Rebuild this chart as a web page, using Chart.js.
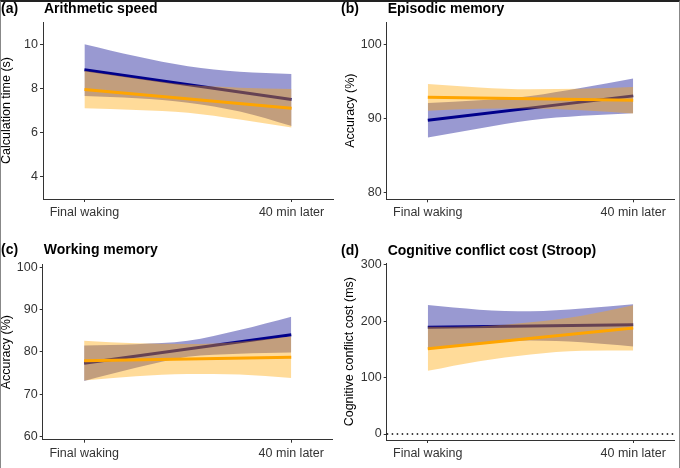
<!DOCTYPE html>
<html>
<head>
<meta charset="utf-8">
<script src="https://cdn.jsdelivr.net/npm/chart.js@4.4.0/dist/chart.umd.min.js"></script>
<style>
  body { margin: 0; background: #fff; }
  #wrap { position: relative; width: 680px; height: 468px; overflow: hidden; }
  #wrap canvas { position: absolute; }
  #frame { position: absolute; left: 0; top: 0; width: 680px; height: 468px; box-sizing: border-box;
           border-top: 2px solid #222; border-left: 1px solid #888; border-right: 1px solid #888; pointer-events: none; }
</style>
</head>
<body>
<div id="wrap">
  <canvas id="panelA" width="340" height="234" style="left:0;top:0"></canvas>
  <canvas id="panelB" width="340" height="234" style="left:340px;top:0"></canvas>
  <canvas id="panelC" width="340" height="234" style="left:0;top:234px"></canvas>
  <canvas id="panelD" width="340" height="234" style="left:340px;top:234px"></canvas>
  <div id="frame"></div>
</div>
<script>
// --- data ---
const timeTicks = [0, 40];
const timeLabels = ['Final waking', '40 min later'];
const lineTimes = [0, 40];
const ribbonTimes = [0, 10, 20, 30, 40];

// (a) arithmetic speed, s
const arithTicks = [4, 6, 8, 10];
const arithBlueLine = [8.84, 7.5];
const arithOrangeLine = [7.95, 7.1];
const arithBlueUpper = [10.0, 9.45, 9.0, 8.75, 8.65];
const arithBlueLower = [7.65, 7.55, 7.35, 6.95, 6.3];
const arithOrangeUpper = [8.8, 8.46, 8.16, 8.03, 7.97];
const arithOrangeLower = [7.1, 7.02, 6.9, 6.59, 6.23];

// (b) episodic memory, %
const episodicTicks = [80, 90, 100];
const episodicBlueLine = [89.8, 93.1];
const episodicOrangeLine = [92.9, 92.5];
const episodicBlueUpper = [92.15, 92.5, 93.1, 94.2, 95.45];
const episodicBlueLower = [87.45, 88.7, 89.8, 90.4, 90.75];
const episodicOrangeUpper = [94.7, 94.25, 94.0, 94.05, 94.3];
const episodicOrangeLower = [91.1, 91.35, 91.4, 91.15, 90.7];

// (c) working memory, %
const workingTicks = [60, 70, 80, 90, 100];
const workingBlueLine = [77.3, 84.05];
const workingOrangeLine = [77.9, 78.7];
const workingBlueUpper = [81.5, 81.8, 82.6, 85.15, 88.3];
const workingBlueLower = [73.1, 76.2, 78.8, 79.55, 79.8];
const workingOrangeUpper = [82.6, 82.0, 81.85, 82.4, 83.6];
const workingOrangeLower = [73.2, 74.2, 74.75, 74.6, 73.8];

// (d) Stroop conflict cost, ms
const stroopTicks = [0, 100, 200, 300];
const stroopBlueLine = [189.4, 193.5];
const stroopOrangeLine = [151, 188];
const stroopBlueUpper = [228.4, 220.4, 217.5, 222.5, 230];
const stroopBlueLower = [150.4, 160.4, 165.5, 162.5, 155];
const stroopOrangeUpper = [190, 191, 198, 209.75, 228];
const stroopOrangeLower = [112, 129, 141, 147.75, 148];
const stroopZero = 0;

const FONT = '"Liberation Sans", Arial, Helvetica, sans-serif';
const BLUE = '#00008B', BLUE_FILL = 'rgba(0,0,139,0.4)';
const ORANGE = '#FFA500', ORANGE_FILL = 'rgba(255,165,0,0.4)';

function pts(xs, ys) {
  return xs.map((x, i) => ({ x: x, y: ys[i] }));
}

// panel letter + bold title
const panelTitles = {
  id: 'panelTitles',
  afterDraw(chart, args, opts) {
    const ctx = chart.ctx;
    ctx.save();
    ctx.fillStyle = '#000';
    ctx.font = 'bold 14px ' + FONT;
    ctx.fillText(opts.letter, opts.letterX, opts.y);
    ctx.fillText(opts.title, chart.chartArea.left + 1, opts.y);
    ctx.restore();
  }
};

// dotted reference line (panel d)
const refLine = {
  id: 'refLine',
  afterDatasetsDraw(chart, args, opts) {
    if (opts.value === undefined) return;
    const ctx = chart.ctx;
    const y = chart.scales.y.getPixelForValue(opts.value);
    ctx.save();
    ctx.strokeStyle = '#000';
    ctx.lineWidth = 1.5;
    ctx.setLineDash([1.5, 3.5]);
    ctx.beginPath();
    ctx.moveTo(chart.chartArea.left, y);
    ctx.lineTo(chart.chartArea.right, y);
    ctx.stroke();
    ctx.restore();
  }
};

function makePanel(id, p) {
  const datasets = [
    // index 0/1: blue ribbon
    { data: pts(ribbonTimes, p.blueLower), borderWidth: 0, pointRadius: 0, fill: false, order: 4, cubicInterpolationMode: 'monotone' },
    { data: pts(ribbonTimes, p.blueUpper), borderWidth: 0, pointRadius: 0, fill: '-1', backgroundColor: BLUE_FILL, order: 3, cubicInterpolationMode: 'monotone' },
    // index 2: blue line
    { data: pts(lineTimes, p.blueLine), borderColor: BLUE, borderWidth: 3, pointRadius: 0, fill: false, order: 2 },
    // index 3/4: orange ribbon
    { data: pts(ribbonTimes, p.orangeLower), borderWidth: 0, pointRadius: 0, fill: false, order: 1.5, cubicInterpolationMode: 'monotone' },
    { data: pts(ribbonTimes, p.orangeUpper), borderWidth: 0, pointRadius: 0, fill: '-1', backgroundColor: ORANGE_FILL, order: 1, cubicInterpolationMode: 'monotone' },
    // index 5: orange line
    { data: pts(lineTimes, p.orangeLine), borderColor: ORANGE, borderWidth: 3, pointRadius: 0, fill: false, order: 0 }
  ];

  new Chart(document.getElementById(id), {
    type: 'line',
    data: { datasets: datasets },
    plugins: [panelTitles, refLine],
    options: {
      responsive: false,
      animation: false,
      layout: { padding: { left: 0, right: 340 - p.right, top: p.top, bottom: 0 } },
      plugins: {
        legend: { display: false },
        tooltip: { enabled: false },
        panelTitles: { letter: p.letter, title: p.title, letterX: 1, y: p.titleY },
        refLine: { value: p.refValue }
      },
      scales: {
        x: {
          type: 'linear',
          min: -8, max: 48,
          afterBuildTicks: s => { s.ticks = timeTicks.map(v => ({ value: v })); },
          afterFit: s => { s.height = p.bottomH; },
          grid: { drawOnChartArea: false, drawTicks: true, tickLength: 3, color: '#333' },
          border: { color: '#333', width: 1 },
          ticks: {
            autoSkip: false, maxRotation: 0, padding: 3, color: '#333',
            font: { family: FONT, size: 12.5 },
            callback: v => timeLabels[timeTicks.indexOf(v)]
          }
        },
        y: {
          min: p.yMin, max: p.yMax,
          afterBuildTicks: s => { s.ticks = p.yTicks.map(v => ({ value: v })); },
          afterFit: s => { s.width = p.left; },
          grid: { drawOnChartArea: false, drawTicks: true, tickLength: 3, color: '#333' },
          border: { color: '#333', width: 1 },
          ticks: { padding: 2, color: '#333', font: { family: FONT, size: 12.5 } },
          title: {
            display: true, text: p.yTitle, color: '#000',
            font: { family: FONT, size: 12.5, lineHeight: 1.1 },
            padding: { top: p.yTitlePad, bottom: 0 }
          }
        }
      }
    }
  });
}

makePanel('panelA', {
  letter: '(a)', title: 'Arithmetic speed', titleY: 13, yTitle: 'Calculation time (s)',
  left: 43, right: 333, top: 22, bottomH: 35, yTitlePad: 0,
  yMin: 3, yMax: 11, yTicks: arithTicks,
  blueLine: arithBlueLine, orangeLine: arithOrangeLine,
  blueUpper: arithBlueUpper, blueLower: arithBlueLower,
  orangeUpper: arithOrangeUpper, orangeLower: arithOrangeLower
});

makePanel('panelB', {
  letter: '(b)', title: 'Episodic memory', titleY: 13, yTitle: 'Accuracy (%)',
  left: 46.7, right: 334.3, top: 22, bottomH: 34.7, yTitlePad: 4,
  yMin: 79.1, yMax: 103.1, yTicks: episodicTicks,
  blueLine: episodicBlueLine, orangeLine: episodicOrangeLine,
  blueUpper: episodicBlueUpper, blueLower: episodicBlueLower,
  orangeUpper: episodicOrangeUpper, orangeLower: episodicOrangeLower
});

makePanel('panelC', {
  letter: '(c)', title: 'Working memory', titleY: 20, yTitle: 'Accuracy (%)',
  left: 42.7, right: 332.7, top: 30.7, bottomH: 28.3, yTitlePad: 0,
  yMin: 59.2, yMax: 100.6, yTicks: workingTicks,
  blueLine: workingBlueLine, orangeLine: workingOrangeLine,
  blueUpper: workingBlueUpper, blueLower: workingBlueLower,
  orangeUpper: workingOrangeUpper, orangeLower: workingOrangeLower
});

makePanel('panelD', {
  letter: '(d)', title: 'Cognitive conflict cost (Stroop)', titleY: 20.5, yTitle: 'Cognitive conflict cost (ms)',
  left: 46.7, right: 334.3, top: 29.3, bottomH: 28, yTitlePad: 3,
  yMin: -10.6, yMax: 302.5, yTicks: stroopTicks, refValue: stroopZero,
  blueLine: stroopBlueLine, orangeLine: stroopOrangeLine,
  blueUpper: stroopBlueUpper, blueLower: stroopBlueLower,
  orangeUpper: stroopOrangeUpper, orangeLower: stroopOrangeLower
});
</script>
</body>
</html>
